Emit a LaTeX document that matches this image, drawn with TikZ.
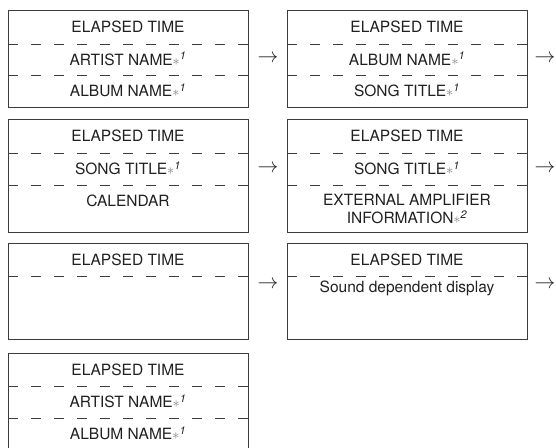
\documentclass[tikz,border=0pt]{standalone}
\usepackage{fontspec}
\setmainfont{TeX Gyre Heros}
\usepackage{tikz}
\usetikzlibrary{positioning}
\definecolor{framegray}{HTML}{3C3C3C}
\definecolor{textgray}{HTML}{202020}
\newcommand{\starnote}[1]{{\color{black!50}$\ast$}\textsuperscript{\itshape #1}}
\tikzset{
  panel/.style={draw=framegray, line width=1.2pt, minimum width=240pt, inner sep=0pt, anchor=north west},
  divider/.style={draw=framegray, line width=1pt, dash pattern=on 10pt off 13pt},
  lbl/.style={font=\fontsize{15.5}{19}\selectfont, text=textgray, inner sep=0pt, text height=11.1pt, text depth=0pt},
  nextarrow/.style={font=\fontsize{20}{20}\selectfont, text=textgray, inner sep=0pt}
}
\begin{document}
\begin{tikzpicture}[x=1pt,y=-1pt]
\clip (0,0) rectangle (556,447);
% Panels
\node[panel, minimum height=97pt] (p11) at (8,10) {};
\node[panel, minimum height=97pt] (p12) at (287,10) {};
\node[panel, minimum height=113pt] (p21) at (8,119) {};
\node[panel, minimum height=113pt] (p22) at (287,119) {};
\node[panel, minimum height=96pt] (p31) at (8,243) {};
\node[panel, minimum height=96pt] (p32) at (287,243) {};
\node[panel, minimum height=120pt] (p41) at (8,353) {};
% Dashed dividers
\foreach \y in {44,75,153,185,276,386,418} {
  \draw[divider] (8,\y) -- (248,\y);
}
\foreach \y in {44,75,153,185,276} {
  \draw[divider] (287,\y) -- (527,\y);
}
% Row 1
\node[lbl] (t11a) at (128,27) {ELAPSED TIME};
\node[lbl] (t11b) at (128,59.5) {ARTIST NAME\starnote{1}};
\node[lbl] (t11c) at (128,91) {ALBUM NAME\starnote{1}};
\node[lbl] (t12a) at (407,27) {ELAPSED TIME};
\node[lbl] (t12b) at (407,59.5) {ALBUM NAME\starnote{1}};
\node[lbl] (t12c) at (407,91) {SONG TITLE\starnote{1}};
% Row 2
\node[lbl] (t21a) at (128,136) {ELAPSED TIME};
\node[lbl] (t21b) at (128,169) {SONG TITLE\starnote{1}};
\node[lbl] (t21c) at (128,201) {CALENDAR};
\node[lbl] (t22a) at (407,136) {ELAPSED TIME};
\node[lbl] (t22b) at (407,169) {SONG TITLE\starnote{1}};
\node[lbl] (t22c) at (407,200) {EXTERNAL AMPLIFIER};
\node[lbl] (t22d) at (407,218) {INFORMATION\starnote{2}};
% Row 3
\node[lbl] (t31a) at (128,259.5) {ELAPSED TIME};
\node[lbl] (t32a) at (407,259.5) {ELAPSED TIME};
\node[lbl] (t32b) at (407,287) {Sound dependent display};
% Row 4
\node[lbl] (t41a) at (128,369.5) {ELAPSED TIME};
\node[lbl] (t41b) at (128,402) {ARTIST NAME\starnote{1}};
\node[lbl] (t41c) at (128,434) {ALBUM NAME\starnote{1}};
% Arrows
\foreach \y/\n in {59/1, 169/2, 285/3} {
  \node[nextarrow] (a\n l) at (268,\y) {$\rightarrow$};
  \node[nextarrow] (a\n r) at (545,\y) {$\rightarrow$};
}
\end{tikzpicture}
\end{document}
